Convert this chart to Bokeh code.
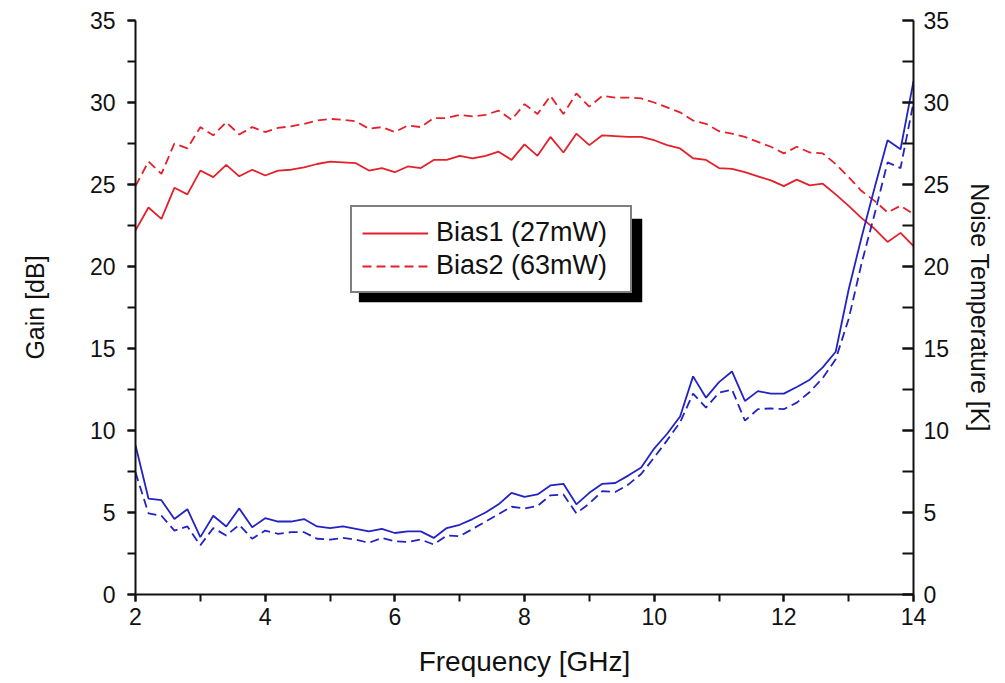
from bokeh.plotting import figure
from bokeh.models import (Range1d, LinearAxis, SingleIntervalTicker, Legend,
                          LegendItem, BoxAnnotation, ColumnDataSource)
from bokeh.embed import file_html
from bokeh.resources import INLINE

# ---------------- data ----------------
freq_ghz = [2.0, 2.2, 2.4, 2.6, 2.8, 3.0, 3.2, 3.4, 3.6, 3.8,
            4.0, 4.2, 4.4, 4.6, 4.8, 5.0, 5.2, 5.4, 5.6, 5.8,
            6.0, 6.2, 6.4, 6.6, 6.8, 7.0, 7.2, 7.4, 7.6, 7.8,
            8.0, 8.2, 8.4, 8.6, 8.8, 9.0, 9.2, 9.4, 9.6, 9.8,
            10.0, 10.2, 10.4, 10.6, 10.8, 11.0, 11.2, 11.4, 11.6, 11.8,
            12.0, 12.2, 12.4, 12.6, 12.8, 13.0, 13.2, 13.4, 13.6, 13.8,
            14.0]

gain_bias1 = [22.2, 23.6, 22.9, 24.8, 24.4, 25.85, 25.45, 26.2, 25.5, 25.9,
              25.55, 25.85, 25.9, 26.05, 26.25, 26.4, 26.35, 26.3, 25.85, 26.0,
              25.75, 26.1, 26.0, 26.5, 26.5, 26.75, 26.6, 26.75, 27.0, 26.5,
              27.45, 26.75, 27.9, 26.95, 28.1, 27.4, 28.0, 27.95, 27.9, 27.9,
              27.7, 27.4, 27.2, 26.6, 26.5, 26.0, 25.95, 25.75, 25.5, 25.25,
              24.9, 25.3, 24.95, 25.05, 24.4, 23.7, 22.95, 22.3, 21.5, 22.05,
              21.25]

gain_bias2 = [24.9, 26.4, 25.65, 27.5, 27.2, 28.5, 28.0, 28.8, 28.05, 28.5,
              28.2, 28.45, 28.55, 28.7, 28.9, 29.0, 28.95, 28.85, 28.4, 28.5,
              28.2, 28.6, 28.5, 29.05, 29.05, 29.25, 29.15, 29.25, 29.5, 28.95,
              29.9, 29.3, 30.4, 29.3, 30.55, 29.75, 30.4, 30.3, 30.3, 30.25,
              30.0, 29.7, 29.4, 28.9, 28.7, 28.25, 28.1, 27.9, 27.6, 27.3,
              26.9, 27.3, 26.95, 26.9, 26.25, 25.45, 24.6, 24.0, 23.3, 23.7,
              23.2]

noise_bias1 = [9.1, 5.85, 5.75, 4.6, 5.2, 3.5, 4.8, 4.15, 5.25, 4.1,
               4.65, 4.45, 4.45, 4.6, 4.15, 4.05, 4.15, 4.0, 3.85, 4.0,
               3.75, 3.85, 3.85, 3.45, 4.05, 4.25, 4.6, 5.0, 5.5, 6.2,
               5.95, 6.1, 6.65, 6.75, 5.5, 6.2, 6.75, 6.8, 7.25, 7.75,
               8.9, 9.8, 10.85, 13.3, 12.0, 12.95, 13.6, 11.8, 12.4, 12.25,
               12.25, 12.65, 13.1, 13.85, 14.8, 18.6, 21.8, 24.8, 27.7, 27.15,
               31.3]

noise_bias2 = [7.45, 4.95, 4.8, 3.9, 4.15, 3.0, 4.05, 3.6, 4.25, 3.4,
               3.9, 3.7, 3.8, 3.8, 3.4, 3.35, 3.45, 3.35, 3.15, 3.45,
               3.25, 3.2, 3.35, 3.05, 3.6, 3.55, 4.0, 4.45, 4.9, 5.35,
               5.25, 5.4, 6.05, 6.1, 4.95, 5.55, 6.3, 6.25, 6.7, 7.35,
               8.35, 9.4, 10.5, 12.25, 11.4, 12.3, 12.5, 10.6, 11.3, 11.35,
               11.3, 11.7, 12.35, 13.2, 14.35, 16.8, 20.2, 23.2, 26.35, 26.0,
               30.0]

legend_labels = ["Bias1 (27mW)", "Bias2 (63mW)"]

# ---------------- style ----------------
RED = "#e4202a"
BLUE = "#2323c4"
FONT = "Liberation Sans"
INK = "#111111"

src = ColumnDataSource(dict(f=freq_ghz, g1=gain_bias1, g2=gain_bias2,
                            n1=noise_bias1, n2=noise_bias2))

p = figure(width=997, height=679, x_range=Range1d(2, 14), y_range=Range1d(0, 35),
           output_backend="svg", toolbar_location=None,
           min_border_left=135, min_border_right=84,
           min_border_top=20, min_border_bottom=85)
p.extra_y_ranges = {"noise": Range1d(0, 35)}
p.grid.visible = False
p.outline_line_color = None
p.background_fill_color = "white"
p.border_fill_color = "white"

# shadow of legend box (drawn under the legend)
shadow = BoxAnnotation(left=5.445, right=9.816, top=22.91, bottom=17.82,
                       fill_color="black", fill_alpha=1.0, line_color=None,
                       level="underlay")
p.add_layout(shadow)

r1 = p.line("f", "g1", source=src, line_color=RED, line_width=1.8)
r2 = p.line("f", "g2", source=src, line_color=RED, line_width=1.8, line_dash="9 5")
p.line("f", "n1", source=src, line_color=BLUE, line_width=1.8, y_range_name="noise")
p.line("f", "n2", source=src, line_color=BLUE, line_width=1.8, line_dash="9 5",
       y_range_name="noise")

# axes
xa = p.xaxis[0]
xa.ticker = SingleIntervalTicker(interval=2, num_minor_ticks=2)
xa.axis_label = "Frequency [GHz]"
ya = p.yaxis[0]
ya.ticker = SingleIntervalTicker(interval=5, num_minor_ticks=2)
ya.axis_label = "Gain [dB]"

yr = LinearAxis(y_range_name="noise", axis_label="Noise Temperature [K]",
                ticker=SingleIntervalTicker(interval=5, num_minor_ticks=2))
p.add_layout(yr, "right")

for ax in (xa, ya, yr):
    ax.axis_line_color = INK
    ax.axis_line_width = 2
    ax.major_tick_line_color = INK
    ax.minor_tick_line_color = INK
    ax.major_tick_line_width = 2
    ax.minor_tick_line_width = 2
    ax.major_label_text_font = FONT
    ax.major_label_text_font_size = "23px"
    ax.major_label_text_color = INK
    ax.axis_label_text_font = FONT
    ax.axis_label_text_font_size = "25px"
    ax.axis_label_text_font_style = "normal"
    ax.axis_label_text_color = INK

xa.axis_label_text_font_size = "28px"

xa.major_tick_out = 7
xa.major_tick_in = 0
xa.minor_tick_out = 7
xa.minor_tick_in = 0
xa.major_label_standoff = 6
xa.axis_label_standoff = 18

ya.major_tick_out = 8
ya.major_tick_in = 0
ya.minor_tick_out = 8
ya.minor_tick_in = 0
ya.major_label_standoff = 12
ya.axis_label_standoff = 38

yr.major_tick_out = 0
yr.major_tick_in = 11
yr.minor_tick_out = 0
yr.minor_tick_in = 11
yr.major_label_standoff = 10
yr.axis_label_standoff = 14

legend = Legend(items=[LegendItem(label=legend_labels[0], renderers=[r1]),
                       LegendItem(label=legend_labels[1], renderers=[r2])],
                location=(215, 301))
legend.label_text_font = FONT
legend.label_text_font_size = "27px"
legend.label_text_color = INK
legend.glyph_width = 66
legend.glyph_height = 28
legend.label_standoff = 8
legend.label_width = 184
legend.padding = 10
legend.spacing = 2
legend.margin = 0
legend.border_line_color = "black"
legend.border_line_width = 2
legend.background_fill_color = "white"
legend.background_fill_alpha = 1.0
p.add_layout(legend, "center")

open("out.html", "w").write(file_html(p, INLINE))
